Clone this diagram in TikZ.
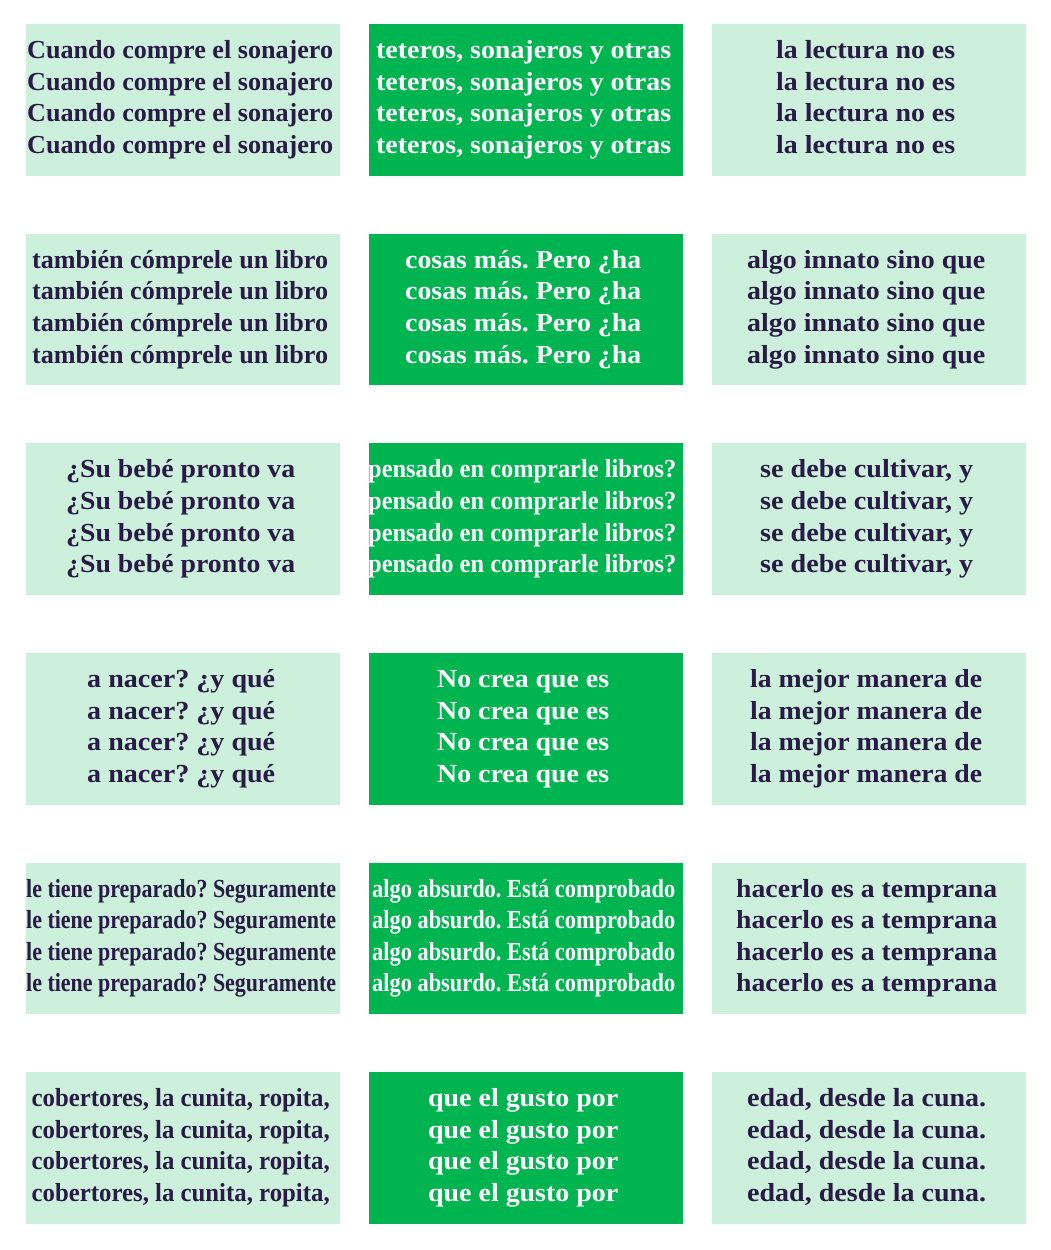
\documentclass[tikz,border=0pt]{standalone}
\usepackage{fontspec}
\setmainfont{Liberation Serif}
\usetikzlibrary{calc}
\definecolor{mint}{HTML}{CCF0DC}
\definecolor{leaf}{HTML}{00B550}
\definecolor{ink}{HTML}{2A1A46}
\frenchspacing
\newcommand\fitto[2]{\resizebox{#1pt}{\height}{#2}}
\tikzset{
  cellbox/.style={draw=none, minimum width=314pt, minimum height=151.5pt, inner sep=0pt, anchor=north west},
  pale/.style={cellbox, fill=mint},
  strong/.style={cellbox, fill=leaf},
  textline/.style={inner sep=0pt, anchor=base, font=\bfseries\fontsize{26pt}{31.6pt}\selectfont},
}
% name, box style, x, y, text colour, width, dx, text
\newcommand\cell[8]{%
  \node[#2] (#1) at (#3,#4) {};
  \foreach \k in {0,1,2,3}{
    \node[textline, text=#5] (#1-\k) at ($(#1.north)+(#7,34.6+31.6*\k)$) {\fitto{#6}{#8}};
  }
}
\begin{document}
\begin{tikzpicture}[x=1pt,y=-1pt]
\useasboundingbox (0,0) rectangle (1050,1250);
\fill[white] (0,0) rectangle (1050,1250);
% row 1
\cell{a1}{pale}{26}{24}{ink}{306}{-3}{Cuando compre el sonajero}
\cell{b1}{strong}{369}{24}{white}{295}{-2.5}{teteros, sonajeros y otras}
\cell{c1}{pale}{712}{24}{ink}{179}{-3.5}{la lectura no es}
% row 2
\cell{a2}{pale}{26}{233.6}{ink}{296}{-3}{también cómprele un libro}
\cell{b2}{strong}{369}{233.6}{white}{236}{-3}{cosas más. Pero ¿ha}
\cell{c2}{pale}{712}{233.6}{ink}{238}{-3}{algo innato sino que}
% row 3
\cell{a3}{pale}{26}{443.2}{ink}{229}{-2.5}{¿Su bebé pronto va}
\cell{b3}{strong}{369}{443.2}{white}{308}{-4}{pensado en comprarle libros?}
\cell{c3}{pale}{712}{443.2}{ink}{213}{-2.5}{se debe cultivar, y}
% row 4
\cell{a4}{pale}{26}{652.8}{ink}{188}{-2}{a nacer? ¿y qué}
\cell{b4}{strong}{369}{652.8}{white}{172}{-3}{No crea que es}
\cell{c4}{pale}{712}{652.8}{ink}{232}{-3}{la mejor manera de}
% row 5
\cell{a5}{pale}{26}{862.4}{ink}{310}{-2}{le tiene preparado? Seguramente}
\cell{b5}{strong}{369}{862.4}{white}{303}{-2.5}{algo absurdo. Está comprobado}
\cell{c5}{pale}{712}{862.4}{ink}{261}{-2.5}{hacerlo es a temprana}
% row 6
\cell{a6}{pale}{26}{1072}{ink}{298}{-2.5}{cobertores, la cunita, ropita,}
\cell{b6}{strong}{369}{1072}{white}{190}{-3}{que el gusto por}
\cell{c6}{pale}{712}{1072}{ink}{239}{-2.5}{edad, desde la cuna.}
\end{tikzpicture}
\end{document}
